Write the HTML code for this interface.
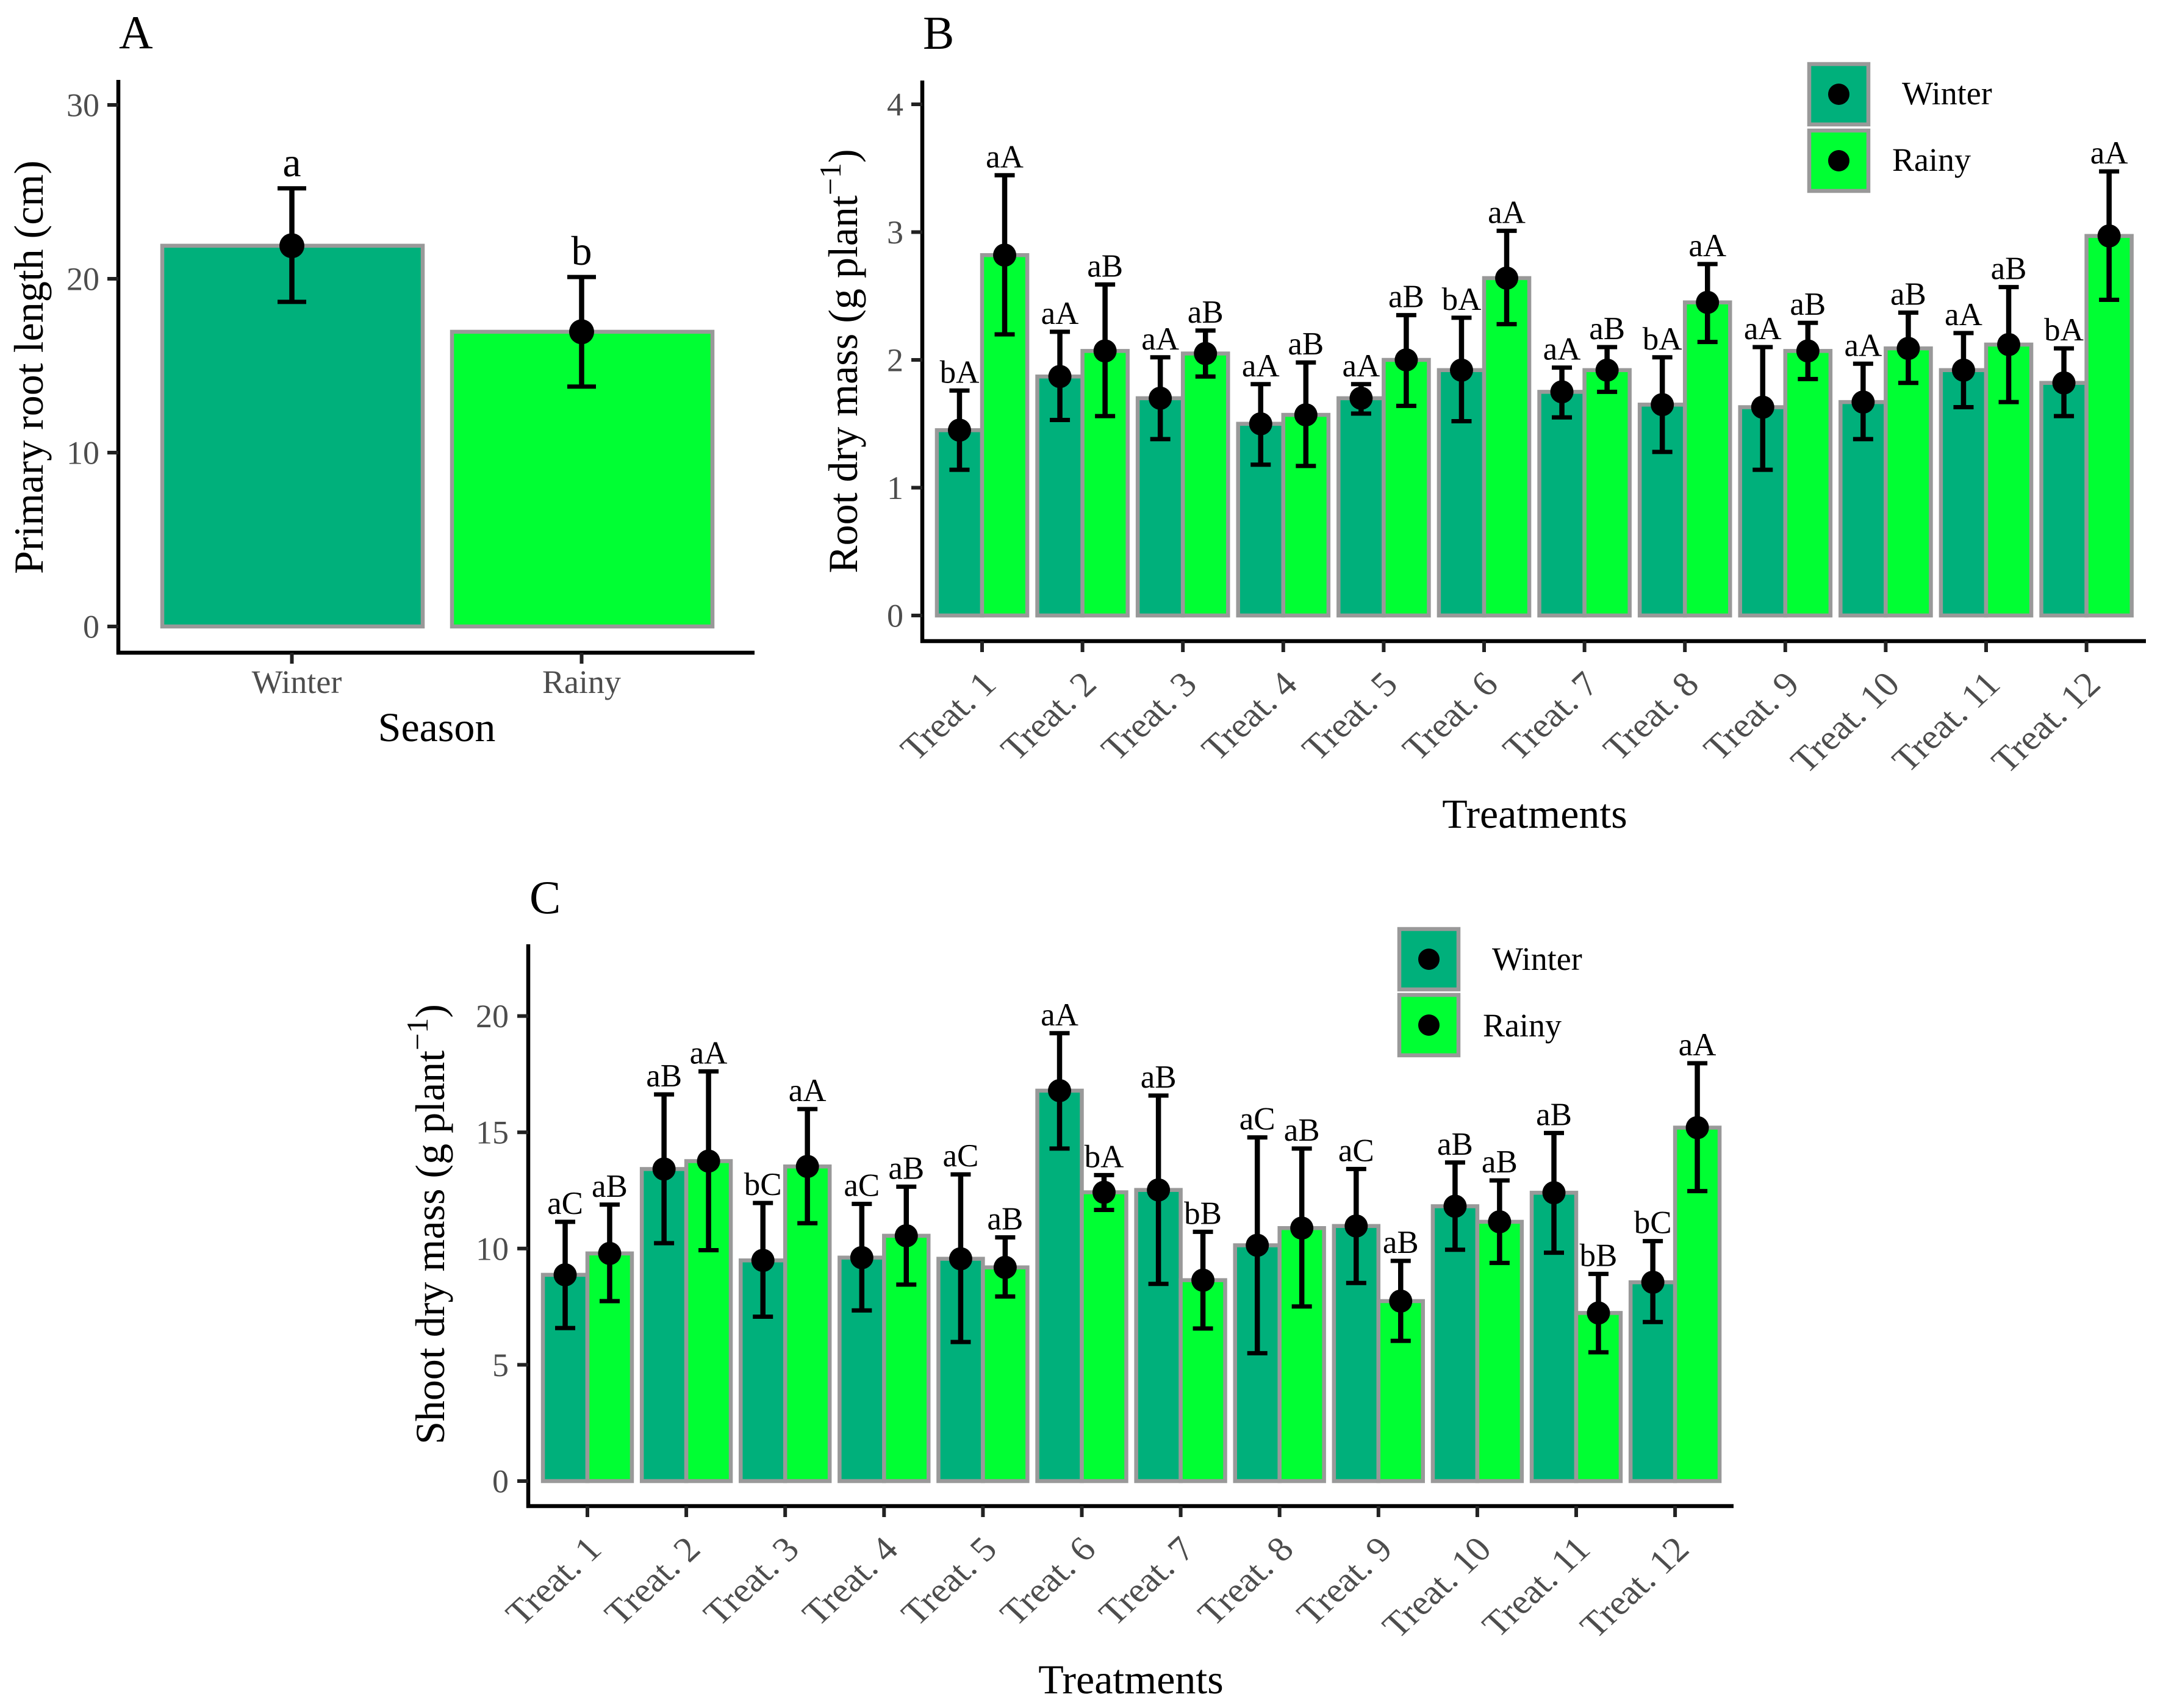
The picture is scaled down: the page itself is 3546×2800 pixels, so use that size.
<!DOCTYPE html>
<html lang="en">
<head>
<meta charset="utf-8">
<title>Root and shoot growth by season and treatment</title>
<style>
html,body{margin:0;padding:0;background:#fff;}
svg{display:block;}
text{font-family:"Liberation Serif","Times New Roman",serif;}
</style>
</head>
<body>
<svg id="figure" xmlns="http://www.w3.org/2000/svg" width="3546" height="2800" viewBox="0 0 3546 2800"></svg>
<script>
const seasons = ["Winter", "Rainy"];
const seasonMeans = [21.9, 16.95];
const seasonHi = [25.2, 20.1];
const seasonLo = [18.67, 13.8];
const seasonSig = ["a", "b"];
const seasonTicks = [0, 10, 20, 30];

const treatments = ["Treat. 1","Treat. 2","Treat. 3","Treat. 4","Treat. 5","Treat. 6","Treat. 7","Treat. 8","Treat. 9","Treat. 10","Treat. 11","Treat. 12"];

const rootTicks = [0, 1, 2, 3, 4];
const rootWinter = [1.45,1.87,1.70,1.50,1.70,1.92,1.75,1.65,1.63,1.67,1.92,1.82];
const rootWinterHi = [1.76,2.22,2.02,1.81,1.81,2.33,1.94,2.02,2.10,1.97,2.21,2.09];
const rootWinterLo = [1.14,1.53,1.38,1.18,1.58,1.52,1.55,1.28,1.14,1.38,1.63,1.56];
const rootWinterSig = ["bA","aA","aA","aA","aA","bA","aA","bA","aA","aA","aA","bA"];
const rootRainy = [2.82,2.07,2.05,1.57,2.00,2.64,1.92,2.45,2.07,2.09,2.12,2.97];
const rootRainyHi = [3.445,2.59,2.23,1.98,2.35,3.01,2.10,2.75,2.29,2.37,2.57,3.475];
const rootRainyLo = [2.20,1.56,1.87,1.17,1.64,2.28,1.75,2.14,1.85,1.82,1.67,2.47];
const rootRainySig = ["aA","aB","aB","aB","aB","aA","aB","aA","aB","aB","aB","aA"];

const shootTicks = [0, 5, 10, 15, 20];
const shootWinter = [8.87,13.42,9.49,9.61,9.56,16.79,12.52,10.14,10.97,11.82,12.40,8.55];
const shootWinterHi = [11.15,16.63,11.96,11.92,13.19,19.26,16.58,14.78,13.42,13.70,14.97,10.32];
const shootWinterLo = [6.58,10.23,7.07,7.34,5.98,14.30,8.48,5.50,8.52,9.95,9.82,6.84];
const shootWinterSig = ["aC","aB","bC","aC","aC","aA","aB","aC","aC","aB","aB","bC"];
const shootRainy = [9.79,13.76,13.53,10.55,9.19,12.42,8.64,10.88,7.74,11.15,7.23,15.20];
const shootRainyHi = [11.89,17.62,16.00,12.66,10.48,13.16,10.72,14.30,9.47,12.93,8.91,17.97];
const shootRainyLo = [7.74,9.93,11.09,8.45,7.94,11.66,6.56,7.51,6.03,9.38,5.54,12.47];
const shootRainySig = ["aB","aA","aA","aB","aB","bA","bB","aB","aB","aB","bB","aA"];

const WINTER_FILL = "#00b07b";
const RAINY_FILL = "#00ff33";
const BAR_STROKE = "#999999";
const AXIS_COLOR = "#000000";
const TICK_TEXT = "#4d4d4d";
const SVG_NS = "http://www.w3.org/2000/svg";
const root = document.getElementById("figure");

function mk(parent, tag, attrs, content) {
  const el = document.createElementNS(SVG_NS, tag);
  for (const k in attrs) el.setAttribute(k, attrs[k]);
  if (content !== undefined) el.textContent = content;
  parent.appendChild(el);
  return el;
}

function group(parent, name) {
  const g = mk(parent, "g", {});
  
  
  return g;
}

function drawAxes(g, o, yScale, xScale, ticks, xLabels) {
  const yLine = mk(g, "line", {x1:o.axisX, x2:o.axisX, y1:o.axisTop, y2:o.axisY + 3, stroke:AXIS_COLOR, "stroke-width":6.5});
  
  
  const xLine = mk(g, "line", {x1:o.axisX - 3, x2:o.axisRight, y1:o.axisY, y2:o.axisY, stroke:AXIS_COLOR, "stroke-width":6.5});
  
  
  ticks.forEach(function (t) {
    const y = yScale(t);
    const tick = mk(g, "line", {x1:o.axisX - 18, x2:o.axisX, y1:y, y2:y, stroke:"#222", "stroke-width":6});
    
    
    const label = mk(g, "text", {x:o.yLabelRight, y:y + 18.5, "text-anchor":"end", "font-size":54, fill:TICK_TEXT}, String(t));
    
    
  });
  xLabels.forEach(function (name, i) {
    const x = xScale(i);
    const tick = mk(g, "line", {x1:x, x2:x, y1:o.axisY, y2:o.axisY + 18, stroke:"#222", "stroke-width":6});
    
    
    let label;
    if (o.rotated) {
      const bx = x + 26, by = o.axisY + 74;
      label = mk(g, "text", {x:0, y:0, "text-anchor":"end", "font-size":60, fill:TICK_TEXT, transform:"translate(" + bx + " " + by + ") scale(1.03 0.96) rotate(-45)"}, name);
    } else {
      label = mk(g, "text", {x:x + (i === 0 ? 8 : 0), y:o.axisY + 66, "text-anchor":"middle", "font-size":54, fill:TICK_TEXT}, name);
    }
    
    
  });
}

function drawBar(g, x, w, yScale, value, fill) {
  const top = yScale(value), base = yScale(0);
  const bar = mk(g, "rect", {x:x, y:top, width:w, height:base - top, fill:fill, stroke:BAR_STROKE, "stroke-width":6.5});
  
  
}

function drawMarker(g, x, yScale, mean, hi, lo, sig, s) {
  const yHi = yScale(hi), yLo = yScale(lo), yM = yScale(mean);
  const stem = mk(g, "line", {x1:x, x2:x, y1:yHi, y2:yLo, stroke:"#000", "stroke-width":s.stem});
  
  
  const capTop = mk(g, "line", {x1:x - s.cap, x2:x + s.cap, y1:yHi, y2:yHi, stroke:"#000", "stroke-width":7});
  
  
  const capBottom = mk(g, "line", {x1:x - s.cap, x2:x + s.cap, y1:yLo, y2:yLo, stroke:"#000", "stroke-width":7});
  
  
  const pt = mk(g, "circle", {cx:x, cy:yM, r:s.r, fill:"#000"});
  
  
  const lab = mk(g, "text", {x:x, y:yHi - s.gap, "text-anchor":"middle", "font-size":s.font, fill:"#000"}, sig);
  
  
}

function drawLegend(parent, o) {
  const g = group(parent, "legend");
  [["Winter", WINTER_FILL, o.winterY, o.winterTextX, o.winterBase],
   ["Rainy", RAINY_FILL, o.rainyY, o.rainyTextX, o.rainyBase]].forEach(function (e) {
    const entry = group(g, "legend-entry");
    const key = mk(entry, "rect", {x:o.x, y:e[2], width:o.w, height:o.h, fill:e[1], stroke:BAR_STROKE, "stroke-width":6.5});
    
    
    const dot = mk(entry, "circle", {cx:o.x + o.w / 2, cy:e[2] + o.h / 2, r:17.5, fill:"#000"});
    
    
    const text = mk(entry, "text", {x:e[3], y:e[4], "font-size":54, fill:"#000"}, e[0]);
    
    
  });
}

function drawYTitle(g, x, y, main, withUnit) {
  const t = mk(g, "text", {x:x, y:y, "text-anchor":"middle", "font-size":68, fill:"#000", transform:"rotate(-90 " + x + " " + y + ")"});
  
  
  if (withUnit) {
    mk(t, "tspan", {}, main);
    mk(t, "tspan", {dy:-27, "font-size":50}, "\u22121");
    mk(t, "tspan", {dy:27}, ")");
  } else {
    t.textContent = main;
  }
}

function drawGroupedPanel(name, o, ticks, winter, winterHi, winterLo, winterSig, rainy, rainyHi, rainyLo, rainySig) {
  const g = group(root, name);
  const yScale = function (v) { return o.y0 - v * o.yUnit; };
  const xScale = function (i) { return o.x0 + i * o.xStep; };
  const letter = mk(g, "text", {x:o.letterX, y:o.letterY, "font-size":77, fill:"#000"}, o.letter);
  
  
  const w = o.xStep * 0.45;
  treatments.forEach(function (_, i) {
    drawBar(g, xScale(i) - w, w, yScale, winter[i], WINTER_FILL);
    drawBar(g, xScale(i), w, yScale, rainy[i], RAINY_FILL);
  });
  const style = {stem:8.5, cap:16.5, r:19, gap:13, font:53};
  treatments.forEach(function (_, i) {
    drawMarker(g, xScale(i) - w / 2, yScale, winter[i], winterHi[i], winterLo[i], winterSig[i], style);
    drawMarker(g, xScale(i) + w / 2, yScale, rainy[i], rainyHi[i], rainyLo[i], rainySig[i], style);
  });
  drawAxes(g, o, yScale, xScale, ticks, treatments);
  drawYTitle(g, o.titleX, o.titleY, "Root dry mass (g plant".replace("Root", o.organ), true);
  const xt = mk(g, "text", {x:o.xTitleX, y:o.xTitleY, "text-anchor":"middle", "font-size":68, fill:"#000"}, "Treatments");
  
  
  drawLegend(g, o.legend);
}

function drawPanelA() {
  const g = group(root, "panel-a");
  const o = {axisX:194, axisTop:131, axisY:1070, axisRight:1237, yLabelRight:163, rotated:false};
  const yScale = function (v) { return 1027 - v * 28.5; };
  const xScale = function (i) { return 478.5 + i * 475; };
  const letter = mk(g, "text", {x:195, y:79, "font-size":77, fill:"#000"}, "A");
  
  
  const barW = 427;
  [WINTER_FILL, RAINY_FILL].forEach(function (fill, i) {
    drawBar(g, xScale(i) - barW / 2 + 1, barW, yScale, seasonMeans[i], fill);
  });
  const style = {stem:8.5, cap:23.5, r:20.5, gap:20, font:68};
  seasons.forEach(function (_, i) {
    drawMarker(g, xScale(i), yScale, seasonMeans[i], seasonHi[i], seasonLo[i], seasonSig[i], style);
  });
  drawAxes(g, o, yScale, xScale, seasonTicks, seasons);
  drawYTitle(g, 70, 602, "Primary root length (cm)", false);
  const xt = mk(g, "text", {x:716, y:1215, "text-anchor":"middle", "font-size":68, fill:"#000"}, "Season");
  
  
}

drawPanelA();

drawGroupedPanel("panel-b", {
  organ:"Root", letter:"B", letterX:1513, letterY:80,
  axisX:1512, axisTop:132, axisY:1051, axisRight:3518, yLabelRight:1481, rotated:true,
  y0:1009, yUnit:209.5, x0:1610, xStep:164.6,
  titleX:1405, titleY:592, xTitleX:2516, xTitleY:1357,
  legend:{x:2966, w:97, h:99, winterY:105, rainyY:214, winterTextX:3118, winterBase:171, rainyTextX:3102, rainyBase:280}
}, rootTicks, rootWinter, rootWinterHi, rootWinterLo, rootWinterSig, rootRainy, rootRainyHi, rootRainyLo, rootRainySig);

drawGroupedPanel("panel-c", {
  organ:"Shoot", letter:"C", letterX:868, letterY:1497,
  axisX:866, axisTop:1548, axisY:2469, axisRight:2842, yLabelRight:834, rotated:true,
  y0:2428, yUnit:38.12, x0:963, xStep:162.1,
  titleX:728, titleY:2007, xTitleX:1854, xTitleY:2776,
  legend:{x:2294, w:97, h:99, winterY:1523, rainyY:1631, winterTextX:2446, winterBase:1590, rainyTextX:2431, rainyBase:1699}
}, shootTicks, shootWinter, shootWinterHi, shootWinterLo, shootWinterSig, shootRainy, shootRainyHi, shootRainyLo, shootRainySig);
</script>
</body>
</html>
